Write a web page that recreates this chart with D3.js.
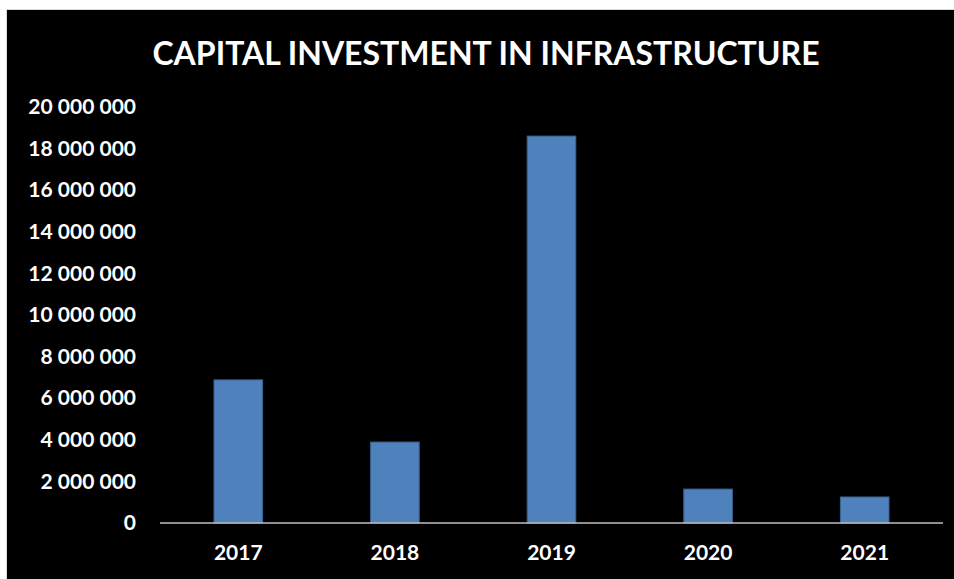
<!DOCTYPE html>
<html>
<head>
<meta charset="utf-8">
<script src="https://cdn.jsdelivr.net/npm/d3@7"></script>
<style>
  html, body { margin: 0; padding: 0; background: #fff; }
  svg { display: block; }
  text { font-family: Lato, "Open Sans", sans-serif; font-weight: bold; fill: #fff; }
</style>
</head>
<body>
<svg id="chart" width="954" height="579"></svg>
<script>
const title = "CAPITAL INVESTMENT IN INFRASTRUCTURE";
const years = ["2017", "2018", "2019", "2020", "2021"];
const investment = [6880000, 3890000, 18600000, 1630000, 1250000];
const yTicks = [0, 2000000, 4000000, 6000000, 8000000, 10000000, 12000000, 14000000, 16000000, 18000000, 20000000];

const W = 954, H = 579;
const svg = d3.select("#chart");

// chart area frame
svg.append("rect").attr("x", 6).attr("y", 9).attr("width", W - 6).attr("height", H - 9)
  .attr("fill", "#d9d9d9");
svg.append("rect").attr("x", 7).attr("y", 10).attr("width", W - 7).attr("height", H - 10)
  .attr("fill", "#000");

const x = d3.scaleBand().domain(years).range([160, 943]).paddingInner(0.69).paddingOuter(0.345);
const y = d3.scaleLinear().domain([0, 20000000]).range([523, 107]);

const fmt = v => d3.format(",")(v).replace(/,/g, " ");

// y axis labels (no axis line)
const yAxis = d3.axisLeft(y).tickValues(yTicks).tickFormat(fmt).tickSize(0).tickPadding(0);
const gy = svg.append("g").attr("transform", "translate(136,0)").call(yAxis);
gy.select(".domain").remove();
gy.selectAll("text").attr("font-size", 21).attr("fill", "#fff")
  .style("font-family", "Lato, 'Open Sans', sans-serif").style("font-weight", "bold");

// bars
svg.append("g").selectAll("rect").data(years).join("rect")
  .attr("x", d => x(d))
  .attr("width", x.bandwidth())
  .attr("y", (d, i) => y(investment[i]))
  .attr("height", (d, i) => y(0) - y(investment[i]))
  .attr("fill", "#4f81bd")
  .attr("stroke", "#3b6595")
  .attr("stroke-width", 1);

// x axis
const xAxis = d3.axisBottom(x).tickSize(0).tickPadding(22);
const gx = svg.append("g").attr("transform", `translate(0,${y(0)})`).call(xAxis);
gx.select(".domain").attr("stroke", "#bfbfbf").attr("stroke-width", 1.5)
  .attr("d", "M160,0H943");
gx.selectAll("text").attr("font-size", 21).attr("fill", "#fff")
  .style("font-family", "Lato, 'Open Sans', sans-serif").style("font-weight", "bold");

// title
svg.append("text").attr("x", 486).attr("y", 65).attr("text-anchor", "middle")
  .attr("font-size", 32).text(title);
</script>
</body>
</html>
